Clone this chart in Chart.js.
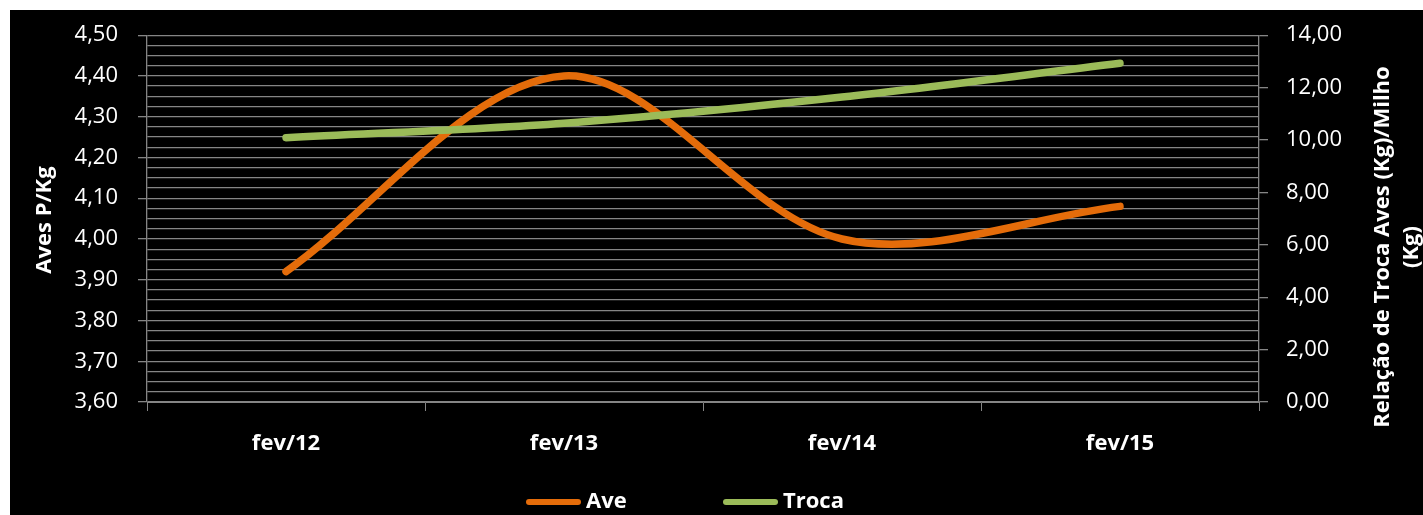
<!DOCTYPE html>
<html>
<head>
<meta charset="utf-8">
<script src="https://cdn.jsdelivr.net/npm/chart.js@4/dist/chart.umd.min.js"></script>
<style>
  html, body { margin: 0; padding: 0; background: #ffffff; }
  #wrap { position: absolute; left: 10px; top: 10px; width: 1413px; height: 505px; background: #000000; overflow: hidden; }
  canvas { display: block; position: absolute; left: 0; top: -8px; }
</style>
</head>
<body>
<div id="wrap"><canvas id="chart" width="1413" height="513"></canvas></div>
<script>
// Categories and series
const categories = ['fev/12', 'fev/13', 'fev/14', 'fev/15'];
const aveValues = [3.92, 4.40, 4.00, 4.08];       // Aves P/Kg (left axis)
const trocaValues = [10.09, 10.64, 11.64, 12.93]; // relação de troca (right axis)

// Axis ranges
const leftAxis = { min: 3.6, max: 4.5, major: 0.1, minor: 0.025 };
const rightAxis = { min: 0, max: 14, step: 2 };

const leftTitle = 'Aves P/Kg';
const rightTitleLines = ['Relação de Troca Aves (Kg)/Milho', '(Kg)'];

const FONT = '"Open Sans", "Liberation Sans", sans-serif';
const GRID = '#858585';
const ORANGE = '#E46C0A';
const GREEN = '#9BBB59';

const fmt = v => v.toFixed(2).replace('.', ',');
const isMajor = v => Math.abs(v / leftAxis.major - Math.round(v / leftAxis.major)) < 1e-6;

// Axis titles and legend drawn on the canvas after the chart
const extras = {
  id: 'extras',
  afterDraw(chart) {
    const ctx = chart.ctx;
    ctx.save();
    ctx.fillStyle = '#ffffff';
    ctx.font = 'bold 22px ' + FONT;
    ctx.textAlign = 'center';
    ctx.textBaseline = 'middle';

    // left title
    ctx.save();
    ctx.translate(35, 218);
    ctx.rotate(-Math.PI / 2);
    ctx.fillText(leftTitle, 0, 0);
    ctx.restore();

    // right title (two lines)
    ctx.save();
    ctx.translate(1373, 245);
    ctx.rotate(-Math.PI / 2);
    ctx.fillText(rightTitleLines[0], 0, 0);
    ctx.fillText(rightTitleLines[1], 0, 29);
    ctx.restore();

    // legend
    const items = [
      { ds: chart.data.datasets[0], x: 519 },
      { ds: chart.data.datasets[1], x: 716 }
    ];
    const ly = 500;
    items.forEach(it => {
      ctx.beginPath();
      ctx.strokeStyle = it.ds.borderColor;
      ctx.lineWidth = 6;
      ctx.lineCap = 'round';
      ctx.moveTo(it.x, ly);
      ctx.lineTo(it.x + 49, ly);
      ctx.stroke();
      ctx.textAlign = 'left';
      ctx.fillText(it.ds.label, it.x + 57, ly);
    });
    ctx.restore();
  }
};

new Chart(document.getElementById('chart'), {
  type: 'line',
  data: {
    labels: categories,
    datasets: [
      {
        label: 'Ave',
        data: aveValues,
        yAxisID: 'y',
        borderColor: ORANGE,
        backgroundColor: ORANGE,
        borderWidth: 7.5,
        borderCapStyle: 'round',
        tension: 0.33,
        pointRadius: 0,
        order: 1
      },
      {
        label: 'Troca',
        data: trocaValues,
        yAxisID: 'y1',
        borderColor: GREEN,
        backgroundColor: GREEN,
        borderWidth: 7.5,
        borderCapStyle: 'round',
        tension: 0.33,
        pointRadius: 0,
        order: 0
      }
    ]
  },
  options: {
    responsive: false,
    animation: false,
    layout: { padding: { top: 17, bottom: 0, left: 0, right: 0 } },
    plugins: {
      legend: { display: false },
      tooltip: { enabled: false }
    },
    scales: {
      x: {
        offset: true,
        grid: { offset: true, drawOnChartArea: false, color: GRID, tickLength: 9 },
        border: { display: true, color: GRID },
        ticks: { color: '#ffffff', font: { family: FONT, size: 22, weight: 'bold' }, padding: 20, maxRotation: 0 },
        afterFit: s => { s.height = 113; }
      },
      y: {
        position: 'left',
        min: leftAxis.min,
        max: leftAxis.max,
        ticks: {
          stepSize: leftAxis.minor,
          maxTicksLimit: 100,
          autoSkip: false,
          color: '#ffffff',
          font: { family: FONT, size: 22 },
          padding: 20,
          callback: v => isMajor(v) ? fmt(v) : ''
        },
        grid: {
          color: GRID,
          lineWidth: 1.3,
          tickLength: 9,
          tickColor: c => (c.tick && isMajor(c.tick.value)) ? GRID : 'rgba(0,0,0,0)'
        },
        border: { display: true, color: GRID, width: 1.3 },
        afterFit: s => { s.width = 137; }
      },
      y1: {
        position: 'right',
        min: rightAxis.min,
        max: rightAxis.max,
        ticks: {
          stepSize: rightAxis.step,
          color: '#ffffff',
          font: { family: FONT, size: 22 },
          padding: 18,
          callback: v => fmt(v)
        },
        grid: { drawOnChartArea: false, color: GRID, tickLength: 9, lineWidth: 1.3 },
        border: { display: true, color: GRID, width: 1.3 },
        afterFit: s => { s.width = 164; }
      }
    }
  },
  plugins: [extras]
});
</script>
</body>
</html>
